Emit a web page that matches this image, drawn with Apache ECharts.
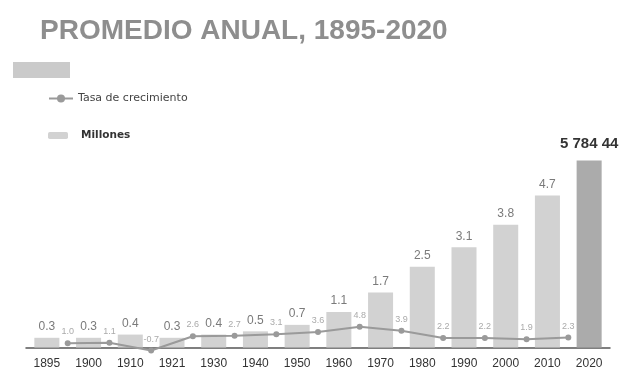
<!DOCTYPE html>
<html>
<head>
<meta charset="utf-8">
<script src="https://cdn.jsdelivr.net/npm/echarts@6/dist/echarts.min.js"></script>
<style>
html,body{margin:0;padding:0;background:#fff;}
#c{width:629px;height:372px;}
</style>
</head>
<body>
<div id="c"></div>
<script>
// Data
var years = ['1895','1900','1910','1921','1930','1940','1950','1960','1970','1980','1990','2000','2010','2020'];
var millones = [0.3,0.3,0.4,0.3,0.4,0.5,0.7,1.1,1.7,2.5,3.1,3.8,4.7,5.78444];
var millonesLabels = ['0.3','0.3','0.4','0.3','0.4','0.5','0.7','1.1','1.7','2.5','3.1','3.8','4.7','5 784 44'];
var periods = ['', '1895-1900','1900-1910','1910-1921','1921-1930','1930-1940','1940-1950','1950-1960','1960-1970','1970-1980','1980-1990','1990-2000','2000-2010','2010-2020', ' '];
var tasa = [null, 1.0, 1.1, -0.7, 2.6, 2.7, 3.1, 3.6, 4.8, 3.9, 2.2, 2.2, 1.9, 2.3, null];

var chart = echarts.init(document.getElementById('c'), null, {renderer:'canvas'});
var FONT = 'Liberation Sans, Arial, sans-serif';
var barData = millones.map(function(v, i){
  var last = i === millones.length - 1;
  return {
    value: v,
    itemStyle: {color: last ? '#ababab' : '#d2d2d2'},
    label: last ? {color:'#333', fontWeight:'bold', fontSize:15, distance:9} : {}
  };
});
chart.setOption({
  animation:false,
  textStyle:{fontFamily:FONT},
  title:{
    text:'PROMEDIO ANUAL, 1895-2020',
    left:35, top:12,
    textStyle:{fontFamily:FONT, fontSize:28, fontWeight:'bold', color:'#8e8e8e'}
  },
  graphic:[{
    type:'rect', left:13, top:62, shape:{width:57, height:16},
    style:{fill:'#cacaca'}
  }],
  legend:[{
    data:['Tasa de crecimiento'],
    left:43, top:88,
    itemWidth:24, itemHeight:10,
    textStyle:{fontFamily:'DejaVu Sans, sans-serif', fontSize:11, color:'#444'}
  },{
    data:['Millones'],
    left:43, top:125,
    itemWidth:20, itemHeight:7,
    textStyle:{fontFamily:'DejaVu Sans, sans-serif', fontSize:10.5, color:'#333', fontWeight:'bold', padding:[0,0,0,8]}
  }],
  grid:{left:26, right:19, top:153.5, bottom:24.5},
  xAxis:[{
    type:'category', data:years,
    axisLine:{lineStyle:{color:'#555', width:1.5}},
    axisTick:{show:false},
    axisLabel:{color:'#333', fontSize:12, margin:10, fontFamily:FONT}
  },{
    type:'category', data:periods, boundaryGap:false, show:false
  }],
  yAxis:[{
    type:'value', min:0, max:6, show:false, splitLine:{show:false}
  },{
    type:'value', min:0, max:45, show:false, splitLine:{show:false}
  }],
  series:[{
    name:'Millones', type:'bar', data:barData, barWidth:'60%',
    xAxisIndex:0, yAxisIndex:0,
    itemStyle:{color:'#d2d2d2'},
    label:{show:true, position:'top', distance:5, fontSize:12, color:'#7a7a7a', fontFamily:FONT,
      formatter:function(p){return millonesLabels[p.dataIndex];}}
  },{
    name:'Tasa de crecimiento', type:'line', data:tasa,
    xAxisIndex:1, yAxisIndex:1, clip:false,
    symbol:'circle', symbolSize:6, connectNulls:false,
    lineStyle:{color:'#9a9a9a', width:2},
    itemStyle:{color:'#9a9a9a'},
    label:{show:true, position:'top', distance:4, fontSize:9, color:'#aaa', fontFamily:FONT,
      formatter:function(p){return p.value == null ? '' : p.value.toFixed(1);}}
  }]
});
</script>
</body>
</html>
